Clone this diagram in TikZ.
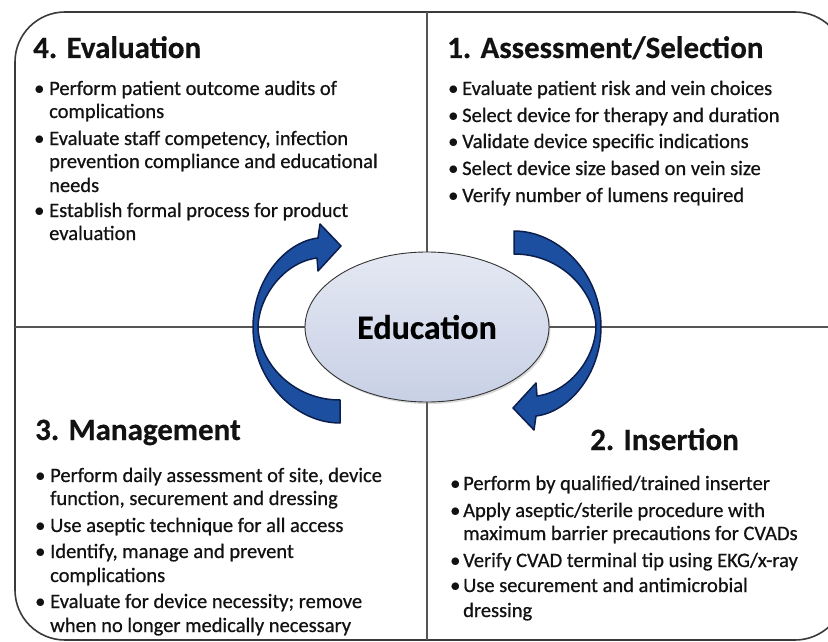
\documentclass[tikz,border=0pt]{standalone}
\usepackage{fontspec}
\setmainfont{Carlito}
\newfontfamily\bodyfont{Carlito}[FakeBold=0.7]
\newfontfamily\titlefont{Carlito Bold}[FakeBold=0.4]
\usetikzlibrary{shapes.geometric,shadows}
\definecolor{txt}{HTML}{121212}
\definecolor{framec}{HTML}{3A3A3A}
\definecolor{divc}{HTML}{555555}
\definecolor{arrfill}{HTML}{1D4FA0}
\definecolor{arrline}{HTML}{0B1E4E}
\definecolor{elltop}{HTML}{E4E8F3}
\definecolor{ellbot}{HTML}{C8D0E5}
\newcommand\ArrShape{(-87,96) .. controls (-132,96) and (-174,53) .. (-174,0)
  .. controls (-174,-47) and (-142,-85) .. (-109,-89) -- (-107,-103) -- (-86,-81)
  -- (-109,-56) -- (-110,-69) .. controls (-142,-65) and (-168,-32) .. (-169,0)
  .. controls (-168,35) and (-135,73) .. (-87,73) -- cycle}
\begin{document}
\begin{tikzpicture}[x=1pt,y=-1pt,
  body/.style={anchor=base west, inner sep=0pt, font=\bodyfont\fontsize{20.5}{24}\selectfont, text=txt},
  ttl/.style={anchor=base west, inner sep=0pt, font=\titlefont\fontsize{31}{36}\selectfont, text=txt},
  frame/.style={draw=framec, line width=1.6pt},
  divider/.style={draw=divc, line width=1.3pt},
  arrowband/.style={fill=arrfill, draw=arrline, line width=1.5pt, line join=round}]
\useasboundingbox (0,0) rectangle (828,642);
\clip (0,0) rectangle (828,642);
% frame and dividers
\draw[frame, rounded corners=50pt] (15,12) rectangle (845,640);
\draw[divider] (427,12) -- (427,640);
\draw[divider] (15,327) -- (845,327);
% centre
\node[ellipse, draw=black!80, line width=0.9pt, top color=elltop, bottom color=ellbot,
  minimum width=244pt, minimum height=150pt, inner sep=0pt,
  drop shadow={opacity=0.3, shadow xshift=1.5pt, shadow yshift=-2pt},
  font=\titlefont\fontsize{34}{40}\selectfont, text=black] (edu) at (427,327) {Education};
% arrows
\path[arrowband, shift={(427,327)}] \ArrShape;
\path[arrowband, shift={(427,327)}, rotate=180] \ArrShape;
% quadrant 4
\node[ttl] (t4) at (33,58) {4. Evaluation};
\node[body] (q4b1) at (34,95) {\textbullet};
\node[body] (q4a) at (49,95) {Perform patient outcome audits of};
\node[body] (q4b) at (49,118) {complications};
\node[body] (q4b2) at (34,145) {\textbullet};
\node[body] (q4c) at (49,145) {Evaluate staff competency, infection};
\node[body] (q4d) at (49,168) {prevention compliance and educational};
\node[body] (q4e) at (49,192) {needs};
\node[body] (q4b3) at (34,217) {\textbullet};
\node[body] (q4f) at (49,217) {Establish formal process for product};
\node[body] (q4g) at (49,240) {evaluation};
% quadrant 1
\node[ttl] (t1) at (447,58) {1. Assessment/Selection};
\node[body] (q1b1) at (448,95) {\textbullet};
\node[body] (q1a) at (462,95) {Evaluate patient risk and vein choices};
\node[body] (q1b2) at (448,122) {\textbullet};
\node[body] (q1b) at (462,122) {Select device for therapy and duration};
\node[body] (q1b3) at (448,148) {\textbullet};
\node[body] (q1c) at (462,148) {Validate device specific indications};
\node[body] (q1b4) at (448,175) {\textbullet};
\node[body] (q1d) at (462,175) {Select device size based on vein size};
\node[body] (q1b5) at (448,202) {\textbullet};
\node[body] (q1e) at (462,202) {Verify number of lumens required};
% quadrant 3
\node[ttl] (t3) at (35,440) {3. Management};
\node[body] (q3b1) at (35,482) {\textbullet};
\node[body] (q3a) at (50,482) {Perform daily assessment of site, device};
\node[body] (q3b) at (50,505) {function, securement and dressing};
\node[body] (q3b2) at (35,532) {\textbullet};
\node[body] (q3c) at (50,532) {Use aseptic technique for all access};
\node[body] (q3b3) at (35,558) {\textbullet};
\node[body] (q3d) at (50,558) {Identify, manage and prevent};
\node[body] (q3e) at (50,582) {complications};
\node[body] (q3b4) at (35,608) {\textbullet};
\node[body] (q3f) at (50,608) {Evaluate for device necessity; remove};
\node[body] (q3g) at (50,632) {when no longer medically necessary};
% quadrant 2
\node[ttl] (t2) at (590,450) {2. Insertion};
\node[body] (q2b1) at (450,490) {\textbullet};
\node[body] (q2a) at (463,490) {Perform by qualified/trained inserter};
\node[body] (q2b2) at (450,517) {\textbullet};
\node[body] (q2b) at (463,517) {Apply aseptic/sterile procedure with};
\node[body] (q2c) at (463,540) {maximum barrier precautions for CVADs};
\node[body] (q2b3) at (450,567) {\textbullet};
\node[body] (q2d) at (463,567) {Verify CVAD terminal tip using EKG/x-ray};
\node[body] (q2b4) at (450,592) {\textbullet};
\node[body] (q2e) at (463,592) {Use securement and antimicrobial};
\node[body] (q2f) at (463,617) {dressing};
\end{tikzpicture}
\end{document}
